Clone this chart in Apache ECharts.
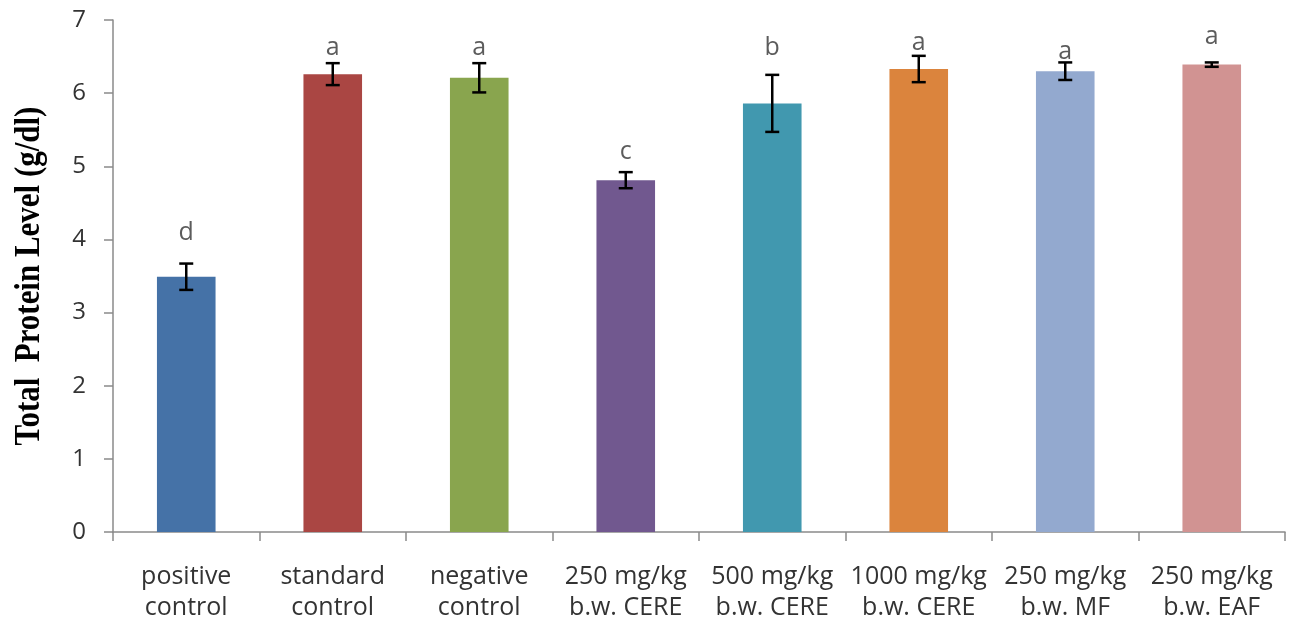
<!DOCTYPE html>
<html><head><meta charset="utf-8">
<script src="https://cdn.jsdelivr.net/npm/echarts@6/dist/echarts.min.js"></script>
<style>html,body{margin:0;padding:0;background:#fff}#c{width:1294px;height:621px}</style>
</head><body><div id="c"></div>
<script>
const categories = ["positive\ncontrol","standard\ncontrol","negative\ncontrol","250 mg/kg\nb.w. CERE","500 mg/kg\nb.w. CERE","1000 mg/kg\nb.w. CERE","250 mg/kg\nb.w. MF","250 mg/kg\nb.w. EAF"];
const means = [3.49, 6.26, 6.21, 4.81, 5.86, 6.33, 6.30, 6.39];
const errors = [0.18, 0.15, 0.20, 0.11, 0.39, 0.18, 0.12, 0.03];
const letters = ["d","a","a","c","b","a","a","a"];
const letterPos = [4.09, 6.62, 6.62, 5.20, 6.62, 6.69, 6.57, 6.77];
const colors = ["#4572A7","#AA4643","#89A54E","#71588F","#4198AF","#DB843D","#93A9CF","#D19392"];
const yTicks = [0,1,2,3,4,5,6,7];
const yTitle = "Total  Protein Level (g/dl)";

const sans = '"Open Sans", "Noto Sans", sans-serif';
const chart = echarts.init(document.getElementById('c'));
chart.setOption({
  animation:false,
  grid:{left:113,right:9,top:20,bottom:89,containLabel:false,outerBoundsMode:'none'},
  xAxis:{type:'category',data:categories,
    axisLine:{lineStyle:{color:'#8a8a8a',width:1.5}},
    axisTick:{show:true,alignWithLabel:false,length:9,lineStyle:{color:'#8a8a8a',width:1.5}},
    axisLabel:{interval:0,color:'#333',fontFamily:sans,fontSize:25,lineHeight:31,margin:29,hideOverlap:false}},
  yAxis:{type:'value',min:0,max:7,interval:1,
    axisLine:{show:true,lineStyle:{color:'#8a8a8a',width:1.5}},
    axisTick:{show:true,length:9,lineStyle:{color:'#8a8a8a',width:1.5}},
    splitLine:{show:false},
    axisLabel:{color:'#333',fontFamily:sans,fontSize:24,margin:27,
      formatter:v=>yTicks.includes(v)?String(v):''}},
  graphic:[{type:'text',x:30,y:276,rotation:Math.PI/2,scaleX:0.86,scaleY:1,
    style:{text:yTitle,x:0,y:0,align:'center',verticalAlign:'middle',
      font:'bold 36px "Liberation Serif", "Times New Roman", serif',fill:'#000'}}],
  series:[
    {type:'bar',data:means.map((v,i)=>({value:v,itemStyle:{color:colors[i]}})),barWidth:'40%'},
    {type:'custom',data:means.map((v,i)=>[i,v-errors[i],v+errors[i]]),z:5,
      renderItem:function(params,api){
        const lo=api.coord([api.value(0),api.value(1)]);
        const hi=api.coord([api.value(0),api.value(2)]);
        const w=7;
        const st={stroke:'#000',lineWidth:2.5};
        return {type:'group',children:[
          {type:'line',shape:{x1:lo[0],y1:lo[1],x2:hi[0],y2:hi[1]},style:st},
          {type:'line',shape:{x1:lo[0]-w,y1:lo[1],x2:lo[0]+w,y2:lo[1]},style:st},
          {type:'line',shape:{x1:hi[0]-w,y1:hi[1],x2:hi[0]+w,y2:hi[1]},style:st}
        ]};
      }},
    {type:'scatter',data:letterPos.map((v,i)=>[i,v]),symbolSize:0,z:6,
      label:{show:true,position:'inside',formatter:p=>letters[p.dataIndex],
        color:'#333',fontFamily:sans,fontSize:25}}
  ]
});
</script></body></html>
